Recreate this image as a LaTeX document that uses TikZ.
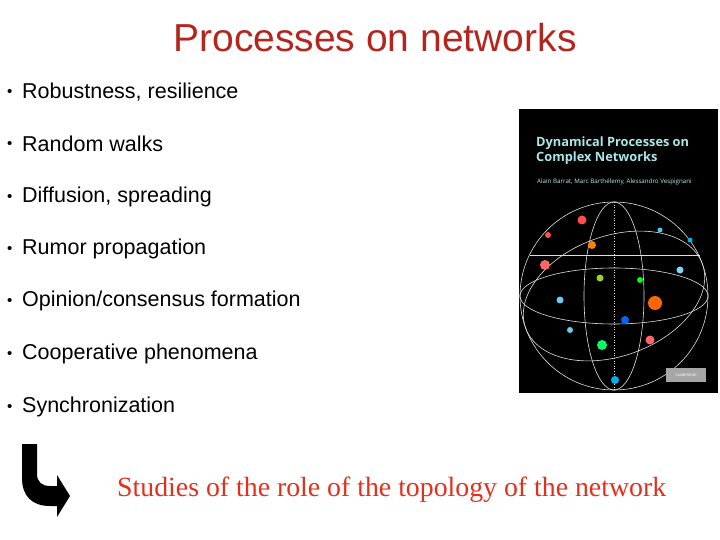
\documentclass[tikz,border=0pt]{standalone}
\usepackage{fontspec}
\setmainfont{Liberation Sans}
\newfontfamily\serifrm{Liberation Serif}
\newfontfamily\coverfont{Open Sans}
\definecolor{titlered}{HTML}{B3261E}
\definecolor{studyred}{HTML}{E3301C}
\definecolor{covercyan}{HTML}{A8E6E8}
\tikzset{
  bullet/.style={anchor=west,font=\fontsize{21.5}{24}\selectfont,inner sep=0pt},
  bdot/.style={anchor=west,font=\fontsize{15}{18}\selectfont,inner sep=0pt},
  dot/.style={circle,inner sep=0pt,minimum size=#1},
}
\begin{document}
\begin{tikzpicture}[x=1pt,y=-1pt]
\useasboundingbox (0,0) rectangle (720,540);
\node[font=\fontsize{39}{44}\selectfont,text=titlered] (title) at (375,38) {Processes on networks};
\foreach \y/\t [count=\i] in {92/{Robustness, resilience},144/{Random walks},197/{Diffusion, spreading},249/{Rumor propagation},301/{Opinion/consensus formation},354/{Cooperative phenomena},407/{Synchronization}}{
  \node[bdot] (bd\i) at (7,\y+1) {\textbullet};
  \node[bullet] (b\i) at (22,\y) {\t};
}
% book cover
\fill[black] (519,109) rectangle (718,393);
\node[anchor=north west,align=left,text=covercyan,font=\coverfont\bfseries\fontsize{12.8}{15}\selectfont,inner sep=0pt] (ctitle) at (536,137) {Dynamical Processes on\\Complex Networks};
\node[anchor=north west,text=covercyan!80!white,font=\coverfont\fontsize{6.2}{7}\selectfont,inner sep=0pt] (cauth) at (537,179) {Alain Barrat, Marc Barth\'elemy, Alessandro Vespignani};
\begin{scope}[draw=white!75!gray,line width=0.6pt]
\draw (614,296) circle (94);
\draw (614,296) ellipse (94 and 28);
\draw (614,296) ellipse (30 and 94);
\draw[rotate around={20:(614,296)}] (614,296) ellipse (94 and 60);
\draw (530,255) -- (700,255);
\draw[dotted] (614,202) -- (614,390);
\end{scope}
\foreach \x/\y/\c/\s in {582/220/red!70/9,592/245/orange/8,545/265/red!60/10,560/300/cyan!60/7,602/345/green!60!cyan/10,615/380/cyan/8,655/303/orange!80!red/14,680/270/cyan!50/7,650/340/red!60/9,640/280/green/6,625/320/blue!60!cyan/8,570/330/cyan!60/6,600/278/yellow!60!green/7,690/240/cyan/5,548/235/red!70/6,660/230/cyan!70/5}{
  \node[dot=\s pt,fill=\c] at (\x,\y) {};
}
\fill[gray!70] (666,368) rectangle (706,382);
\node[font=\fontsize{3.5}{4}\selectfont,text=white] (cup) at (686,375) {CAMBRIDGE};
% bent arrow
\fill[black] (22,444) -- (22,478) .. controls (22,496) and (32,506) .. (50,506) -- (57,506) -- (57,517) -- (70,496) -- (57,475) -- (57,486) -- (50,486) .. controls (42,486) and (37,482) .. (37,474) -- (37,444) -- cycle;
\node[anchor=west,inner sep=0pt,text=studyred,font=\serifrm\fontsize{27.8}{32}\selectfont] (study) at (117,490) {Studies of the role of the topology of the network};
\end{tikzpicture}
\end{document}
